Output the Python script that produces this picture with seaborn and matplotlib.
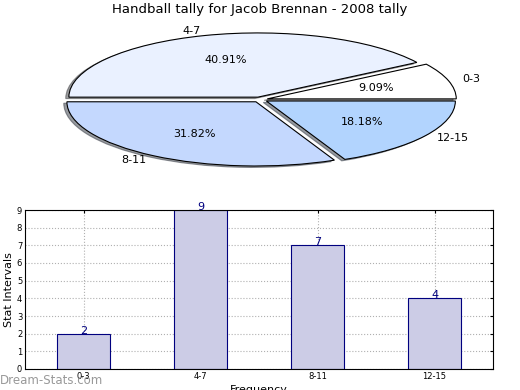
import matplotlib
matplotlib.use('Agg')
import matplotlib.pyplot as plt
import seaborn as sns

# 데이터
intervals = ['0-3', '4-7', '8-11', '12-15']
counts = [2, 9, 7, 4]
pie_colors = ['#ffffff', '#eaf1ff', '#c4d8fe', '#b2d4fe']

sns.set_style('white')
plt.rcParams['font.family'] = ['DejaVu Sans']
plt.rcParams['text.color'] = 'black'
plt.rcParams['axes.labelcolor'] = 'black'
plt.rcParams['xtick.color'] = 'black'
plt.rcParams['ytick.color'] = 'black'

fig = plt.figure(figsize=(5.2, 3.9), dpi=100)

# 파이 차트 (위쪽, 납작한 타원)
ax1 = fig.add_axes([0.0, 208 / 390, 1.0, 164 / 390])
ax1.pie(counts, labels=intervals, colors=pie_colors, autopct='%.2f%%',
        startangle=0, explode=[0.04] * 4,
        shadow={'ox': -0.012, 'oy': -0.016, 'shade': 0.75},
        labeldistance=1.075, pctdistance=0.6,
        wedgeprops={'edgecolor': 'black', 'linewidth': 0.8},
        textprops={'fontsize': 8, 'color': 'black'})
ax1.set_aspect('auto')
ax1.set_xlim(-260 / 189, 260 / 189)
ax1.set_ylim(-1.283, 1.271)
ax1.axis('off')

fig.text(0.5, 1 - 10 / 390, 'Handball tally for Jacob Brennan - 2008 tally',
         ha='center', va='center', fontsize=9.5, color='black')

# 막대 차트 (아래쪽)
ax2 = fig.add_axes([25 / 520, 21 / 390, 468 / 520, 159 / 390])
sns.barplot(x=intervals, y=counts, color='#cccce6', saturation=1,
            edgecolor='#00007f', linewidth=0.8, width=0.45, ax=ax2, zorder=2)
ax2.set_xlim(-0.5, 3.5)
ax2.set_ylim(0, 9)
ax2.set_yticks(range(10))
ax2.grid(True, linestyle=':', color='#b0b0b0', linewidth=0.8, zorder=0)
ax2.set_axisbelow(True)
ax2.tick_params(axis='both', direction='in', labelsize=6, length=2,
                top=True, right=True, pad=2)
for s in ax2.spines.values():
    s.set_visible(True)
    s.set_color('black')
    s.set_linewidth(0.8)
ax2.set_ylabel('Stat Intervals', fontsize=8, labelpad=2)
ax2.set_xlabel('Frequency', fontsize=8, labelpad=3)

for i, v in enumerate(counts):
    ax2.text(i, v + 0.17, str(v), ha='center', va='center',
             color='#00007f', fontsize=8)

# 워터마크
fig.text(0.0, 1 - 380 / 390, 'Dream-Stats.com', ha='left', va='center',
         fontsize=8.5, color='#999999')

fig.savefig('out.png', dpi=100)
plt.close(fig)
